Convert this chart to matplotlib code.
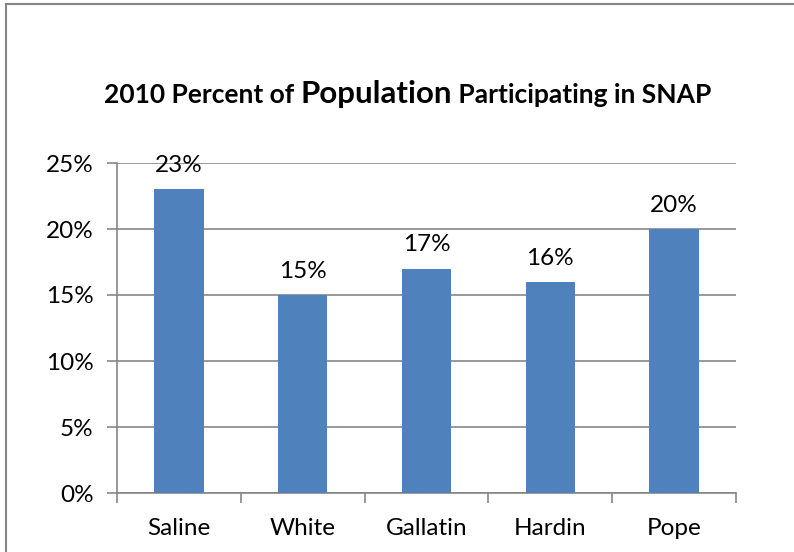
import matplotlib
matplotlib.use("Agg")
import matplotlib.pyplot as plt

plt.rcParams['font.family'] = ['Lato', 'DejaVu Sans']

categories = ["Saline", "White", "Gallatin", "Hardin", "Pope"]
values = [23, 15, 17, 16, 20]
yticks = [0, 5, 10, 15, 20, 25]
ytick_labels = ["0%", "5%", "10%", "15%", "20%", "25%"]

W, H = 794, 552
fig = plt.figure(figsize=(W / 100, H / 100), dpi=100)

# chart border (left and top visible)
fig.add_artist(plt.Line2D([6 / W, 6 / W], [0, 1 - 4 / H], transform=fig.transFigure,
                          color="#868686", lw=1.5))
fig.add_artist(plt.Line2D([6 / W, 1], [1 - 4 / H, 1 - 4 / H], transform=fig.transFigure,
                          color="#868686", lw=1.5))

left, right = 117 / W, 736 / W
bottom, top = 1 - 493 / H, 1 - 163 / H
ax = fig.add_axes([left, bottom, right - left, top - bottom])

grid_c = "#868686"
fs = 17.5
x = list(range(len(categories)))
ax.bar(x, values, width=0.4, color="#4F81BD", zorder=3)
ax.set_xlim(-0.5, len(categories) - 0.5)
ax.set_ylim(0, 25)

for xi, v in zip(x, values):
    ax.annotate(f"{v}%", (xi, v), xytext=(0, 9.5), textcoords="offset points",
                ha="center", va="bottom", fontsize=fs, color="#000000")

ax.set_yticks(yticks)
ax.set_yticklabels(ytick_labels, fontsize=fs)
ax.yaxis.grid(True, color=grid_c, lw=1.2, zorder=0)
ax.set_xticks(x)
ax.set_xticklabels(categories, fontsize=fs)
ax.tick_params(axis="x", length=0, pad=18)
ax.tick_params(axis="y", length=7, width=1.2, color=grid_c, pad=10)
# category boundary ticks
ax.set_xticks([i - 0.5 for i in range(len(categories) + 1)], minor=True)
ax.tick_params(axis="x", which="minor", length=7, width=1.2, color=grid_c, direction="out")

for s in ["top", "right"]:
    ax.spines[s].set_visible(False)
for s in ["left", "bottom"]:
    ax.spines[s].set_color(grid_c)
    ax.spines[s].set_linewidth(1.2)

# title with mixed font sizes
parts = [("2010 Percent of ", 19), ("Population", 22.5), (" Participating in SNAP", 19)]
fig.canvas.draw()
r = fig.canvas.get_renderer()
texts = []
for s, tfs in parts:
    t = fig.text(0, 0, s, fontsize=tfs, fontweight="bold", ha="left", va="baseline")
    texts.append(t)
widths = [t.get_window_extent(r).width for t in texts]
total = sum(widths)
cx = 408
y_base = H - 103
xpos = cx - total / 2
for t, w in zip(texts, widths):
    t.set_position((xpos / W, y_base / H))
    xpos += w

fig.savefig("out.png", dpi=100)
